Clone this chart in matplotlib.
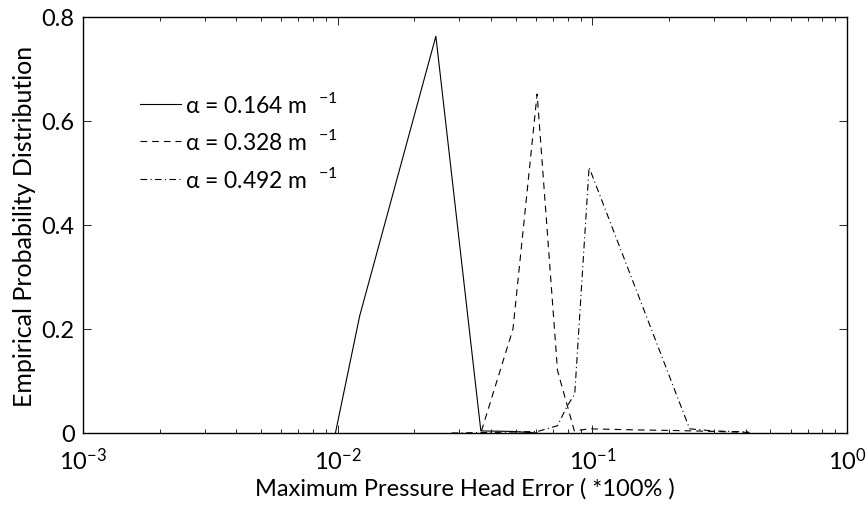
import numpy as np
import matplotlib
matplotlib.use("Agg")
import matplotlib.pyplot as plt

plt.rcParams["font.family"] = ["Lato", "DejaVu Sans"]
plt.rcParams["mathtext.fontset"] = "custom"
plt.rcParams["mathtext.rm"] = "Lato"

# alpha = 0.164 m^-1
solid_x = [0.0098, 0.0122, 0.0243, 0.0365, 0.0486, 0.0607]
solid_y = [0.0, 0.225, 0.763, 0.004, 0.003, 0.0]

# alpha = 0.328 m^-1
dash_x = [0.0367, 0.0488, 0.0607, 0.073, 0.085, 0.097, 0.121, 0.146, 0.2, 0.25, 0.3, 0.42]
dash_y = [0.004, 0.2, 0.652, 0.12, 0.004, 0.008, 0.007, 0.006, 0.005, 0.004, 0.003, 0.001]

# alpha = 0.492 m^-1
dd_x = [0.028, 0.04, 0.05, 0.061, 0.073, 0.0793, 0.0853, 0.0971, 0.241, 0.3, 0.41]
dd_y = [0.0, 0.001, 0.002, 0.003, 0.014, 0.05, 0.075, 0.511, 0.008, 0.004, 0.002]

labels = ["\u03b1 = 0.164 m  $^{-1}$", "\u03b1 = 0.328 m  $^{-1}$", "\u03b1 = 0.492 m  $^{-1}$"]

fig = plt.figure(figsize=(8.66, 5.06), dpi=100, facecolor="white")
ax = fig.add_axes([83 / 866, 72 / 506, 764 / 866, 416 / 506])

ax.plot(solid_x, solid_y, "-", color="k", lw=0.8, label=labels[0])
ax.plot(dash_x, dash_y, "--", color="k", lw=0.8, dashes=(6, 4.5), label=labels[1])
ax.plot(dd_x, dd_y, "-.", color="k", lw=0.8, dashes=(6, 3, 1, 3), label=labels[2])

ax.set_xscale("log")
ax.set_xlim(1e-3, 1)
ax.set_ylim(0, 0.8)
ax.set_yticks([0, 0.2, 0.4, 0.6, 0.8])
ax.set_yticklabels(["0", "0.2", "0.4", "0.6", "0.8"])

ax.tick_params(which="both", direction="in", top=True, right=True, labelsize=17, width=0.6)
ax.tick_params(which="major", length=6)
ax.tick_params(axis="x", pad=10)
ax.tick_params(axis="y", pad=6)
ax.tick_params(which="minor", length=3)
for s in ax.spines.values():
    s.set_linewidth(1.0)

ax.set_xlabel("Maximum Pressure Head Error ( *100% )", fontsize=17, labelpad=3)
ax.set_ylabel("Empirical Probability Distribution", fontsize=18, labelpad=4)

ax.legend(loc="upper left", bbox_to_anchor=(0.062, 0.845), frameon=False, fontsize=16.5,
          handlelength=1.8, handletextpad=0.2, labelspacing=0.55, borderaxespad=0)

fig.savefig("out.png", facecolor="white")
